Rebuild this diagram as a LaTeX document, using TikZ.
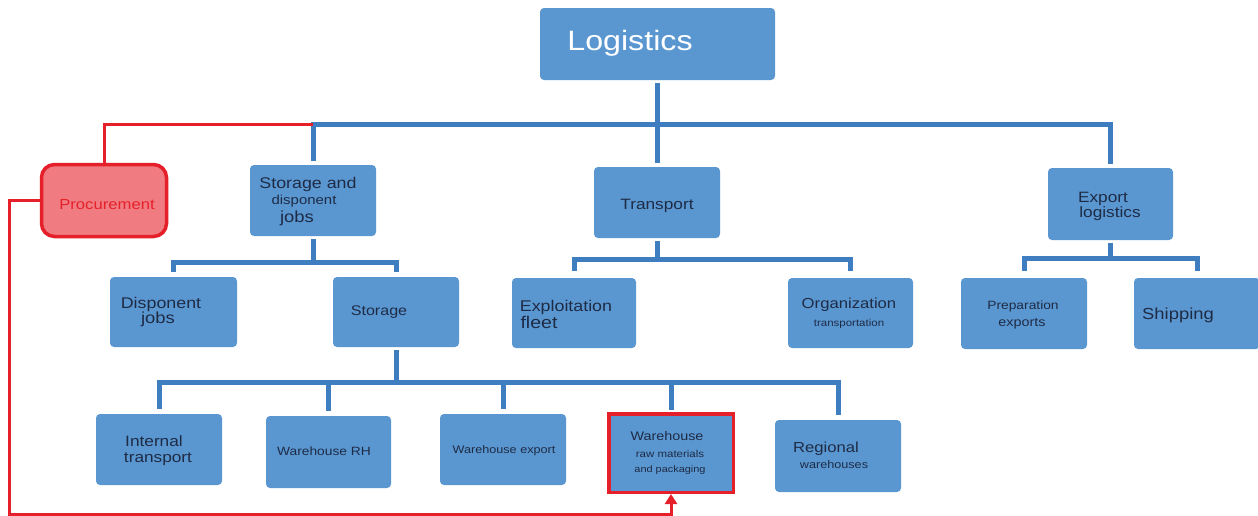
\documentclass[tikz,border=0pt]{standalone}
\usepackage{fontspec}
\setmainfont{Liberation Sans}[FakeStretch=1.15]
\usetikzlibrary{arrows.meta}
\definecolor{boxblue}{HTML}{5A97D1}
\definecolor{lineblue}{HTML}{3D7DC0}
\definecolor{navy}{HTML}{1E2B45}
\definecolor{alertred}{HTML}{E5202A}
\definecolor{procfill}{HTML}{F07C82}
\newcommand{\tsz}[1]{\fontsize{#1}{#1}\selectfont}
\tikzset{
  box/.style={draw=none, fill=boxblue, rounded corners=4pt, inner sep=0pt},
  redbox/.style={draw=alertred, line width=3.5pt, fill=procfill, rounded corners=13pt, inner sep=0pt},
  rawbox/.style={draw=alertred, line width=3.5pt, fill=boxblue, inner sep=0pt},
  bus/.style={draw=lineblue, line width=5pt},
  redline/.style={draw=alertred, line width=3pt},
  txt/.style={anchor=base, inner sep=0pt, text=navy},
}
\begin{document}
\begin{tikzpicture}[x=1pt, y=-1pt]
\useasboundingbox[fill=white] (0,0) rectangle (1258,515);

% ---- boxes ----
\node[box, minimum width=235, minimum height=72] (logi) at (657.5,44) {};
\node[redbox, minimum width=125, minimum height=72] (proc) at (104,200.5) {};
\node[box, minimum width=126, minimum height=71] (sdj) at (313,200.5) {};
\node[box, minimum width=126, minimum height=71] (trans) at (657,202.5) {};
\node[box, minimum width=125, minimum height=72] (expl) at (1110.5,204) {};

\node[box, minimum width=127, minimum height=70] (disp) at (173.5,312) {};
\node[box, minimum width=126, minimum height=70] (stor) at (396,312) {};
\node[box, minimum width=124, minimum height=70] (fleet) at (574,313) {};
\node[box, minimum width=125, minimum height=70] (org) at (850.5,313) {};
\node[box, minimum width=126, minimum height=71] (prep) at (1024,313.5) {};
\node[box, minimum width=126, minimum height=71] (ship) at (1197,313.5) {};

\node[box, minimum width=126, minimum height=71] (intr) at (159,449.5) {};
\node[box, minimum width=125, minimum height=72] (wrh) at (328.5,452) {};
\node[box, minimum width=126, minimum height=71] (wex) at (503,449.5) {};
\node[rawbox, minimum width=124.5, minimum height=78.5] (wraw) at (671,453) {};
\node[box, minimum width=126, minimum height=72] (reg) at (838,456) {};

% ---- bus levels ----
\coordinate (bar) at (0,124);
\coordinate (barS) at (0,262);
\coordinate (barT) at (0,259);
\coordinate (barE) at (0,258);
\coordinate (barW) at (0,382);
\coordinate (rl) at (9,514);

% ---- connectors: top level ----
\draw[bus, shorten <=3pt, shorten >=4pt] (logi.south) -- (logi.south |- trans.north);
\draw[bus, shorten <=4pt, shorten >=4pt] (sdj.north) -- (sdj.north |- bar) -- (expl.north |- bar) -- (expl.north);
\draw[redline] (proc.north) -- (proc.north |- bar) -- (sdj.north |- bar);

% storage and disponent jobs
\draw[bus, shorten <=3pt] (sdj.south) -- (sdj.south |- barS);
\draw[bus, shorten <=5pt, shorten >=5pt] (disp.north) -- (disp.north |- barS) -- (stor.north |- barS) -- (stor.north);

% transport
\draw[bus, shorten <=3pt] (trans.south) -- (trans.south |- barT);
\draw[bus, shorten <=7pt, shorten >=7pt] (fleet.north) -- (fleet.north |- barT) -- (org.north |- barT) -- (org.north);

% export logistics
\draw[bus, shorten <=3pt] (expl.south) -- (expl.south |- barE);
\draw[bus, shorten <=7pt, shorten >=7pt] (prep.north) -- (prep.north |- barE) -- (ship.north |- barE) -- (ship.north);

% storage
\draw[bus, shorten <=3pt] (stor.south) -- (stor.south |- barW);
\draw[bus, shorten <=5pt, shorten >=5pt] (intr.north) -- (intr.north |- barW) -- (reg.north |- barW) -- (reg.north);
\draw[bus, shorten >=5pt] (wrh.north |- barW) -- (wrh.north);
\draw[bus, shorten >=5pt] (wex.north |- barW) -- (wex.north);
\draw[bus, shorten >=2pt] (wraw.north |- barW) -- (wraw.north);

% procurement feedback
\draw[redline, -{Triangle[width=12pt,length=10pt]}] (proc.west) -| (rl) -| (wraw.south);

% ---- labels ----
\node[txt, text=white, font=\tsz{28}] (tlogi) at (630,50) {Logistics};
\node[txt, text=alertred, font=\tsz{14.5}] (tproc) at (107,209) {Procurement};
\node[txt, font=\tsz{15.5}] (tsdj1) at (308,188) {Storage and};
\node[txt, font=\tsz{13}] (tsdj2) at (304,204) {disponent};
\node[txt, font=\tsz{16}] (tsdj3) at (297,222) {jobs};
\node[txt, font=\tsz{15}] (ttrans) at (657,209) {Transport};
\node[txt, font=\tsz{15}] (texpl1) at (1103,202) {Export};
\node[txt, font=\tsz{15}] (texpl2) at (1110,217) {logistics};

\node[txt, font=\tsz{15.5}] (tdisp1) at (161,308) {Disponent};
\node[txt, font=\tsz{16}] (tdisp2) at (158,323) {jobs};
\node[txt, font=\tsz{14}] (tstor) at (379,315) {Storage};
\node[txt, font=\tsz{15.5}] (tfleet1) at (566,311) {Exploitation};
\node[txt, font=\tsz{17}] (tfleet2) at (539,328) {fleet};
\node[txt, font=\tsz{14.5}] (torg1) at (849,308) {Organization};
\node[txt, font=\tsz{10}] (torg2) at (849,326) {transportation};
\node[txt, font=\tsz{12}] (tprep1) at (1023,309) {Preparation};
\node[txt, font=\tsz{12.5}] (tprep2) at (1022,326) {exports};
\node[txt, font=\tsz{16}] (tship) at (1178,319) {Shipping};

\node[txt, font=\tsz{15}] (tintr1) at (154,446) {Internal};
\node[txt, font=\tsz{15}] (tintr2) at (158,462) {transport};
\node[txt, font=\tsz{12}] (twrh) at (324,455) {Warehouse RH};
\node[txt, font=\tsz{11}] (twex) at (504,453) {Warehouse export};
\node[txt, font=\tsz{12.5}] (twraw1) at (667,440) {Warehouse};
\node[txt, font=\tsz{10}] (twraw2) at (670,457) {raw materials};
\node[txt, font=\tsz{9.5}] (twraw3) at (670,472) {and packaging};
\node[txt, font=\tsz{14.5}] (treg1) at (826,452) {Regional};
\node[txt, font=\tsz{11}] (treg2) at (834,468) {warehouses};
\end{tikzpicture}
\end{document}
